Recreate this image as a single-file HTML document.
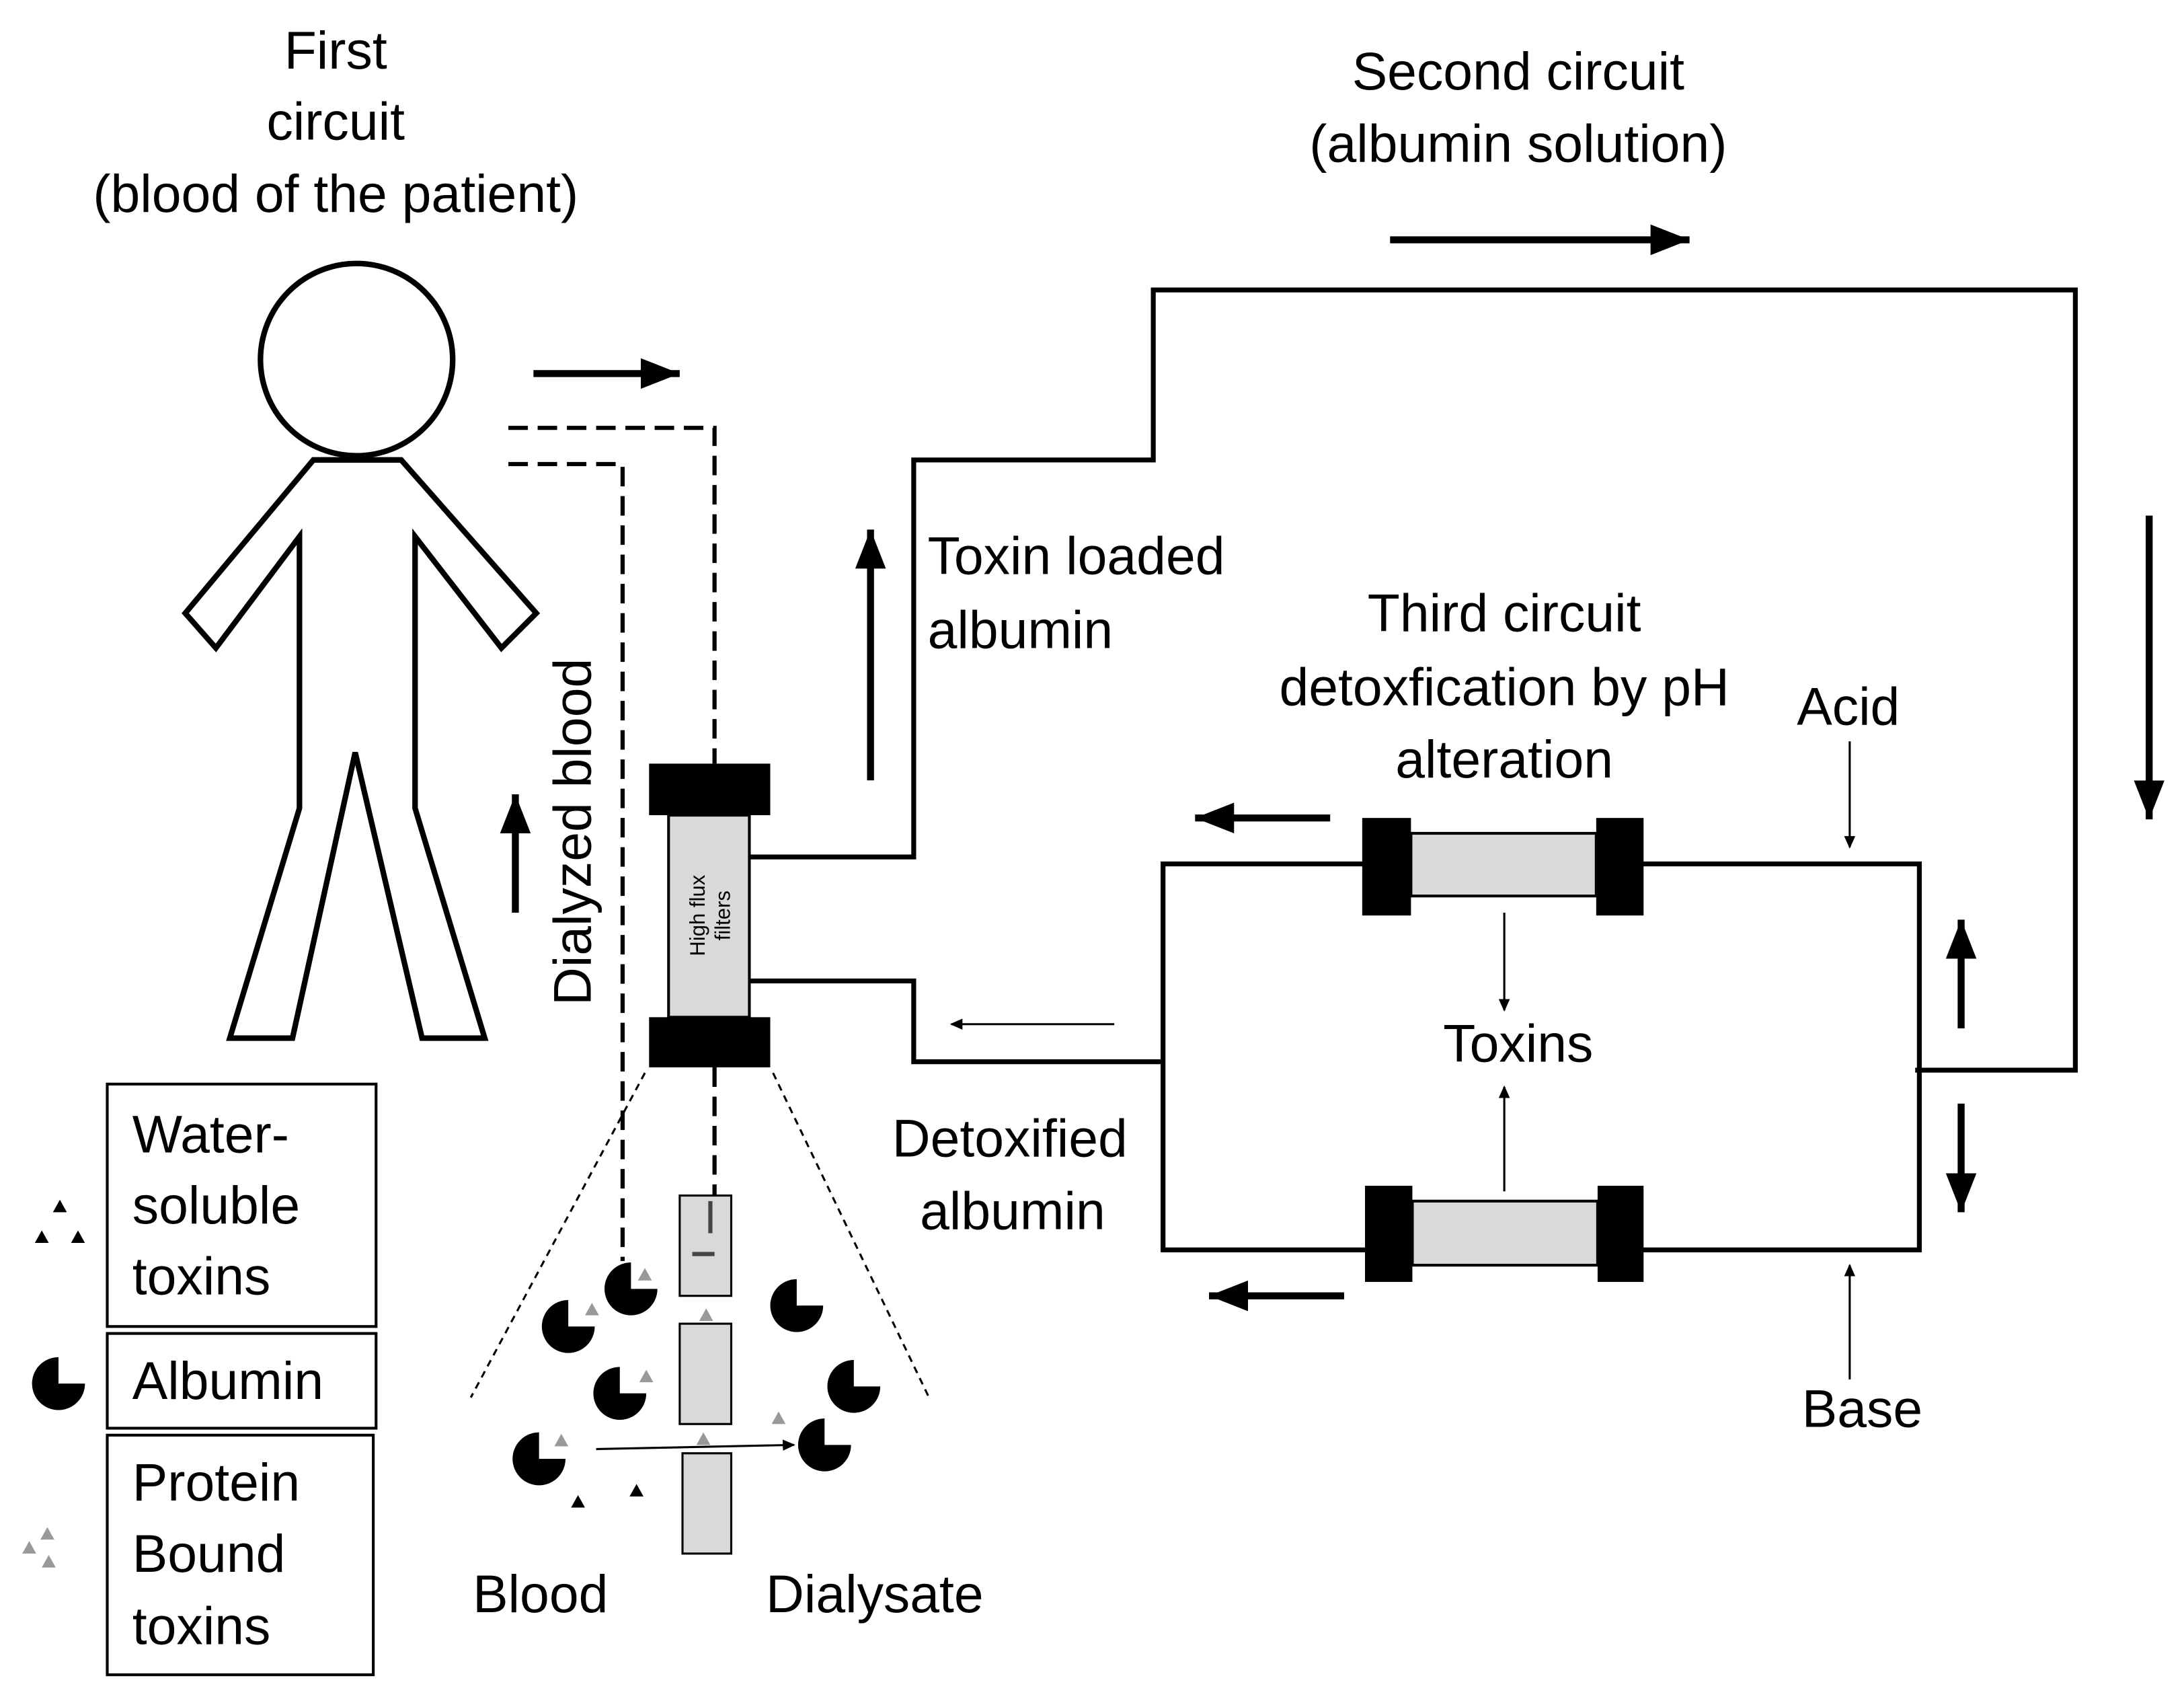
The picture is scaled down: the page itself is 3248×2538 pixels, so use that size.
<!DOCTYPE html>
<html><head><meta charset="utf-8"><style>
html,body{margin:0;padding:0;background:#fff;}
svg{display:block;}
text{font-family:"Liberation Sans",sans-serif;fill:#000;}
</style></head><body>
<svg width="3248" height="2538" viewBox="0 0 1568 1225" xmlns="http://www.w3.org/2000/svg">
<defs>
<marker id="ah" markerWidth="10" markerHeight="10" refX="8" refY="5" orient="auto" markerUnits="userSpaceOnUse"><path d="M0,1 L9,5 L0,9 Z" fill="#000"/></marker>
<marker id="ahB" markerWidth="30" markerHeight="26" refX="28" refY="13" orient="auto" markerUnits="userSpaceOnUse"><path d="M0,2 L28,13 L0,24 Z" fill="#000"/></marker>
<g id="pac"><path d="M0,0 L0,-19 A19,19 0 1 0 19,0 Z" fill="#000"/></g>
<g id="gt"><path d="M0,-5 L5,4 L-5,4 Z" fill="#999"/></g>
<g id="bt"><path d="M0,-5 L5,4 L-5,4 Z" fill="#000"/></g>
</defs>
<g font-size="38" text-anchor="middle">
<text x="241" y="49">First</text>
<text x="241" y="100">circuit</text>
<text x="241" y="152">(blood of the patient)</text>
<text x="1090" y="64">Second circuit</text>
<text x="1090" y="116">(albumin solution)</text>
<text x="1080" y="453">Third circuit</text>
<text x="1080" y="506">detoxfication by pH</text>
<text x="1080" y="558">alteration</text>
<text x="1090" y="762">Toxins</text>
<text x="1327" y="520">Acid</text>
<text x="1337" y="1024">Base</text>
<text x="725" y="830">Detoxified</text>
<text x="727" y="882">albumin</text>
<text x="388" y="1157">Blood</text>
<text x="628" y="1157">Dialysate</text>
</g>
<g font-size="38">
<text x="666" y="412">Toxin loaded</text>
<text x="666" y="465">albumin</text>
<text x="95" y="827">Water-</text>
<text x="95" y="878">soluble</text>
<text x="95" y="929">toxins</text>
<text x="95" y="1004">Albumin</text>
<text x="95" y="1077">Protein</text>
<text x="95" y="1128">Bound</text>
<text x="95" y="1180">toxins</text>
<text transform="translate(424,597) rotate(-90)" text-anchor="middle">Dialyzed blood</text>
</g>
<!-- person -->
<circle cx="256" cy="258" r="69" fill="none" stroke="#000" stroke-width="4"/>
<path d="M225,330 L288,330 L385,440 L360,465 L298,385 L298,580 L348,745 L303,745 L255,540 L210,745 L165,745 L215,580 L215,385 L155,465 L133,440 Z" fill="none" stroke="#000" stroke-width="4" stroke-linejoin="miter"/>
<g stroke="#000" stroke-width="5" fill="none">
<line x1="383" y1="268" x2="488" y2="268" marker-end="url(#ahB)"/>
<line x1="998" y1="172" x2="1213" y2="172" marker-end="url(#ahB)"/>
<line x1="625" y1="560" x2="625" y2="380" marker-end="url(#ahB)"/>
<line x1="370" y1="655" x2="370" y2="570" marker-end="url(#ahB)"/>
<line x1="1543" y1="370" x2="1543" y2="588" marker-end="url(#ahB)"/>
<line x1="955" y1="587" x2="858" y2="587" marker-end="url(#ahB)"/>
<line x1="965" y1="930" x2="868" y2="930" marker-end="url(#ahB)"/>
<line x1="1408" y1="738" x2="1408" y2="660" marker-end="url(#ahB)"/>
<line x1="1408" y1="792" x2="1408" y2="870" marker-end="url(#ahB)"/>
</g>
<g stroke="#000" stroke-width="1.5" fill="none">
<line x1="800" y1="735" x2="683" y2="735" marker-end="url(#ah)"/>
<line x1="1328" y1="532" x2="1328" y2="608" marker-end="url(#ah)"/>
<line x1="1328" y1="990" x2="1328" y2="908" marker-end="url(#ah)"/>
<line x1="1080" y1="655" x2="1080" y2="725" marker-end="url(#ah)"/>
<line x1="1080" y1="855" x2="1080" y2="780" marker-end="url(#ah)"/>
<line x1="428" y1="1040" x2="570" y2="1037" marker-end="url(#ah)"/>
</g>
<g stroke="#000" stroke-width="3" fill="none" stroke-dasharray="14,7">
<path d="M365,307 L513,307 L513,548"/>
<path d="M365,333 L447,333 L447,905"/>
<path d="M513,766 L513,858"/>
</g>
<g stroke="#000" stroke-width="1.5" fill="none" stroke-dasharray="5,4">
<line x1="463" y1="770" x2="338" y2="1003"/>
<line x1="555" y1="770" x2="667" y2="1003"/>
</g>
<g stroke="#000" stroke-width="3.5" fill="none">
<path d="M538,615 L656,615 L656,330 L828,330 L828,208 L1490,208 L1490,768 L1375,768"/>
<path d="M538,704 L656,704 L656,762 L835,762"/>
<path d="M835,620 L1378,620 L1378,897 L835,897 Z"/>
</g>
<rect x="480" y="585" width="58" height="145" fill="#d9d9d9" stroke="#000" stroke-width="2"/>
<rect x="466" y="548" width="87" height="37" fill="#000"/>
<rect x="466" y="730" width="87" height="36" fill="#000"/>
<text transform="translate(509,657) rotate(-90)" font-size="15" text-anchor="middle"><tspan x="0" y="-3">High flux</tspan><tspan x="0" y="15">filters</tspan></text>
<rect x="1013" y="598" width="133" height="45" fill="#d9d9d9" stroke="#000" stroke-width="2"/>
<rect x="978" y="587" width="35" height="70" fill="#000"/>
<rect x="1146" y="587" width="34" height="70" fill="#000"/>
<rect x="1014" y="862" width="133" height="46" fill="#d9d9d9" stroke="#000" stroke-width="2"/>
<rect x="980" y="851" width="34" height="69" fill="#000"/>
<rect x="1147" y="851" width="33" height="69" fill="#000"/>
<g stroke="#000" stroke-width="2" fill="none">
<rect x="77" y="778" width="193" height="174"/>
<rect x="77" y="957" width="193" height="68"/>
<rect x="77" y="1030" width="191" height="172"/>
</g>
<use href="#bt" x="43" y="866"/><use href="#bt" x="30" y="888"/><use href="#bt" x="56" y="888"/>
<use href="#pac" x="42" y="993"/>
<use href="#gt" x="34" y="1101"/><use href="#gt" x="21" y="1111"/><use href="#gt" x="35" y="1121"/>
<rect x="488" y="858" width="37" height="72" fill="#d9d9d9" stroke="#000" stroke-width="1.5"/>
<rect x="488" y="950" width="37" height="72" fill="#d9d9d9" stroke="#000" stroke-width="1.5"/>
<rect x="490" y="1043" width="35" height="72" fill="#d9d9d9" stroke="#000" stroke-width="1.5"/>
<path d="M510,862 L510,885 M497,900 L513,900" stroke="#444" stroke-width="3"/>
<use href="#pac" x="453" y="925"/><use href="#pac" x="408" y="952"/><use href="#pac" x="445" y="1000"/>
<use href="#pac" x="572" y="937"/><use href="#pac" x="387" y="1047"/><use href="#pac" x="592" y="1037"/><use href="#pac" x="613" y="995"/>
<use href="#gt" x="463" y="915"/><use href="#gt" x="425" y="940"/><use href="#gt" x="464" y="988"/><use href="#gt" x="403" y="1034"/>
<use href="#gt" x="507" y="944"/><use href="#gt" x="505" y="1033"/><use href="#gt" x="559" y="1018"/>
<use href="#bt" x="415" y="1078"/><use href="#bt" x="457" y="1070"/>
</svg>
</body></html>
